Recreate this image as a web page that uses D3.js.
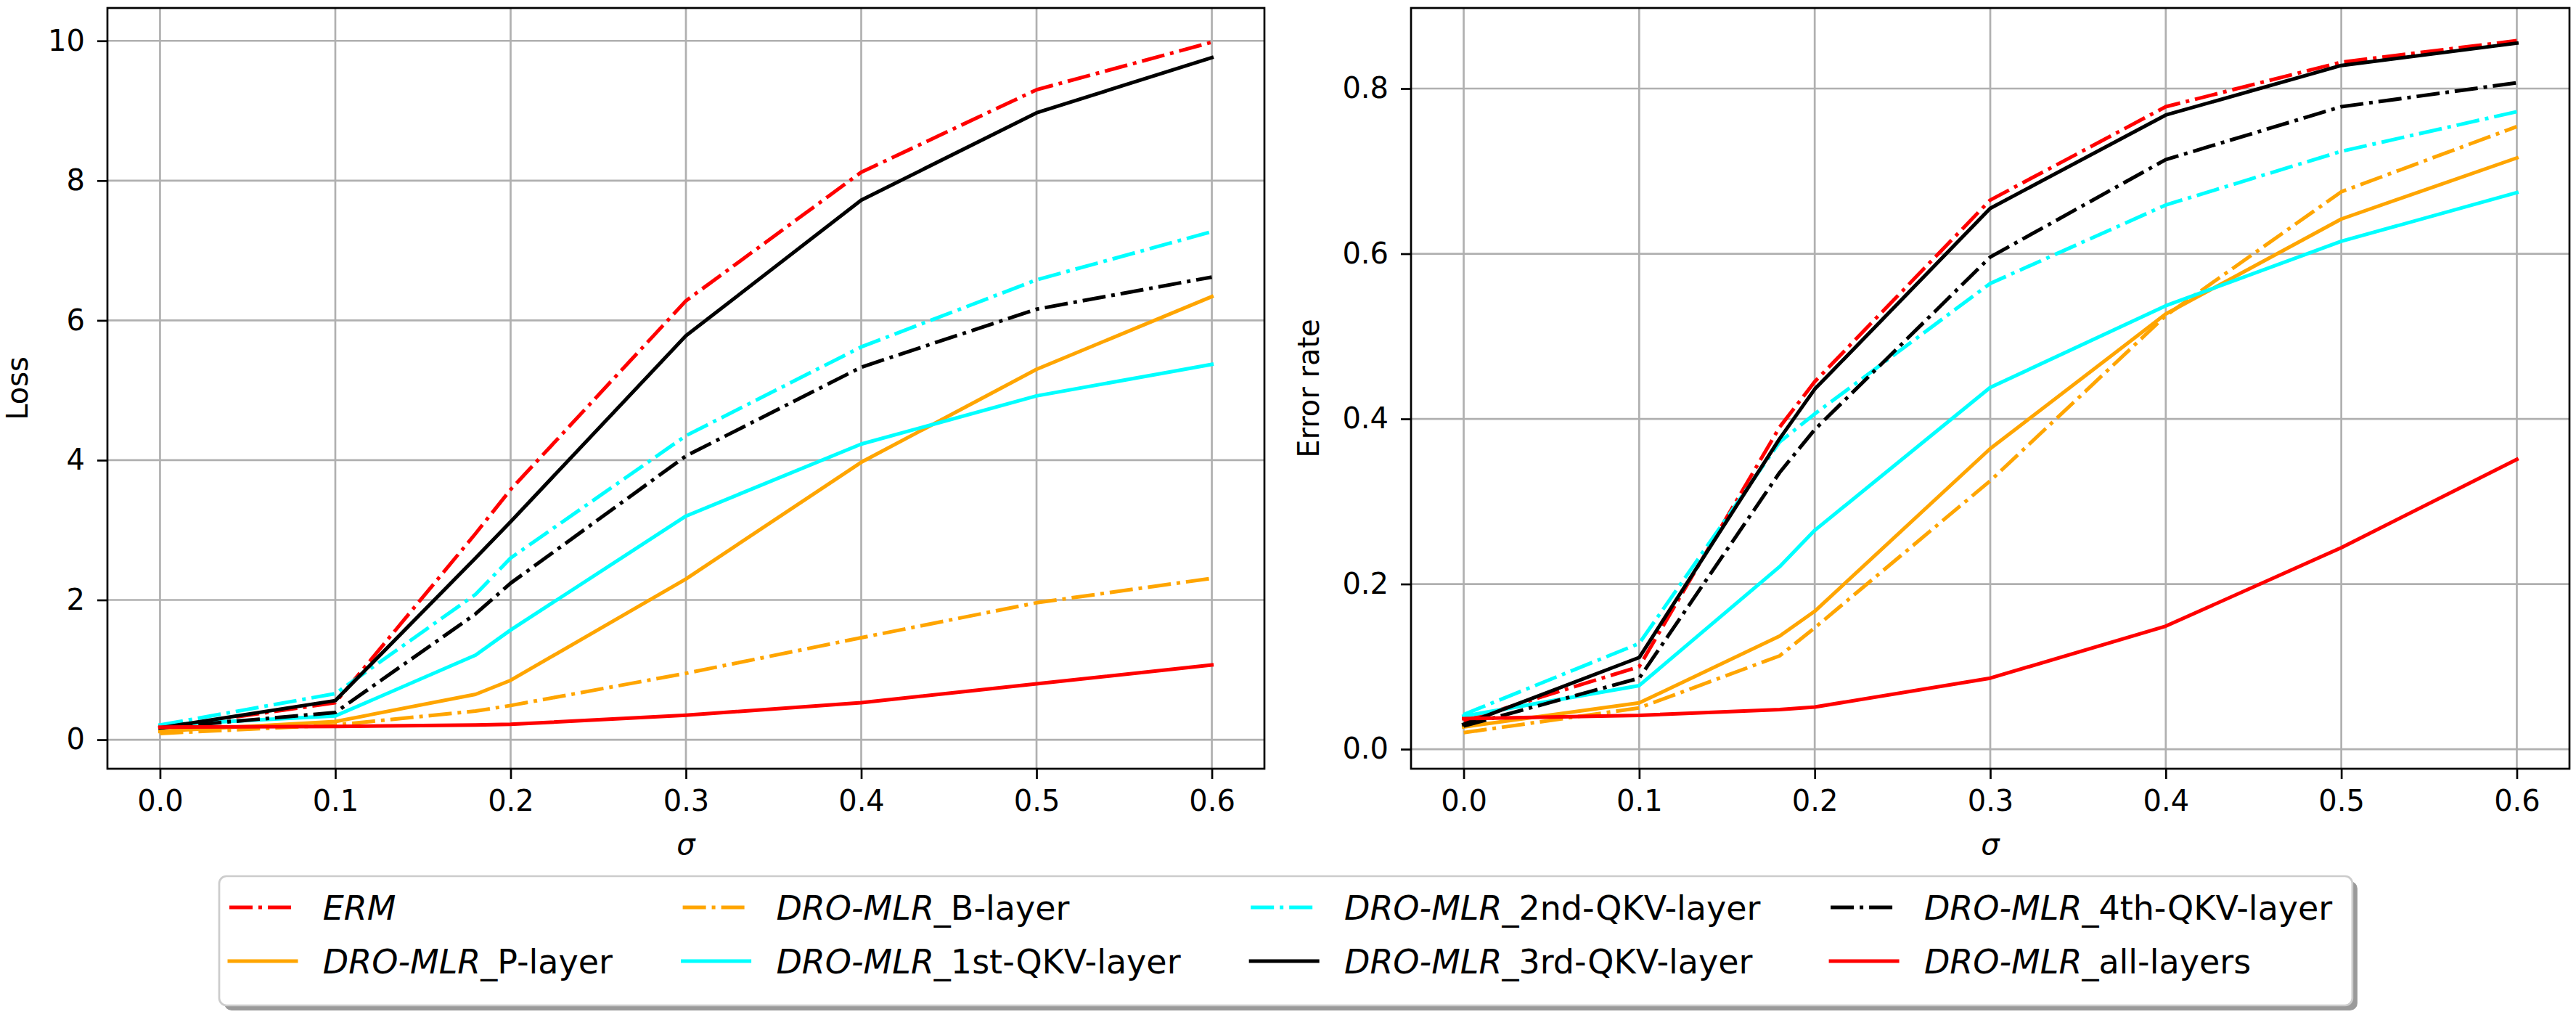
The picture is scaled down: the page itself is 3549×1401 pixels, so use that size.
<!DOCTYPE html>
<html>
<head>
<meta charset="utf-8">
<script src="https://cdn.jsdelivr.net/npm/d3@7"></script>
<style>
  html, body { margin: 0; padding: 0; background: #fff; }
  svg { display: block; }
  text { font-family: "DejaVu Sans", sans-serif; fill: #000; }
</style>
</head>
<body>
<svg id="chart" width="3549" height="1401"></svg>
<script>
// ---------------- DATA ----------------
const sigma = [0, 0.1, 0.18, 0.2, 0.3, 0.4, 0.5, 0.6];
const xTicks = [0, 0.1, 0.2, 0.3, 0.4, 0.5, 0.6];
const lossTicks = [0, 2, 4, 6, 8, 10];
const errTicks = [0, 0.2, 0.4, 0.6, 0.8];

const seriesNames = ["ERM", "P-layer", "B-layer", "1st-QKV-layer", "2nd-QKV-layer", "3rd-QKV-layer", "4th-QKV-layer", "all-layers"];

// Loss panel
const lossERM  = [0.17, 0.53, 2.95, 3.58, 6.28, 8.12, 9.30, 9.98];
const lossP    = [0.12, 0.26, 0.65, 0.85, 2.30, 3.97, 5.30, 6.34];
const lossB    = [0.09, 0.21, 0.41, 0.49, 0.95, 1.46, 1.96, 2.31];
const lossQKV1 = [0.21, 0.34, 1.21, 1.57, 3.20, 4.23, 4.92, 5.37];
const lossQKV2 = [0.21, 0.66, 2.08, 2.60, 4.35, 5.62, 6.58, 7.27];
const lossQKV3 = [0.17, 0.56, 2.60, 3.12, 5.78, 7.72, 8.97, 9.76];
const lossQKV4 = [0.17, 0.39, 1.80, 2.24, 4.06, 5.33, 6.16, 6.62];
const lossAll  = [0.18, 0.19, 0.21, 0.22, 0.35, 0.53, 0.80, 1.07];

// Error-rate panel
const errERM  = [0.034, 0.100, 0.390, 0.445, 0.665, 0.778, 0.832, 0.858];
const errP    = [0.027, 0.056, 0.137, 0.167, 0.364, 0.527, 0.642, 0.716];
const errB    = [0.020, 0.050, 0.113, 0.147, 0.325, 0.525, 0.675, 0.754];
const errQKV1 = [0.040, 0.077, 0.221, 0.265, 0.438, 0.537, 0.615, 0.674];
const errQKV2 = [0.042, 0.128, 0.372, 0.406, 0.564, 0.659, 0.724, 0.772];
const errQKV3 = [0.030, 0.111, 0.376, 0.436, 0.655, 0.768, 0.828, 0.855];
const errQKV4 = [0.028, 0.086, 0.335, 0.387, 0.596, 0.714, 0.778, 0.807];
const errAll  = [0.037, 0.041, 0.048, 0.051, 0.086, 0.149, 0.244, 0.351];

// ---------------- STYLE ----------------
const seriesColors = ["#ff0000", "#ffa500", "#ffa500", "#00ffff", "#00ffff", "#000000", "#000000", "#ff0000"];
const DASHDOT = "32,8,5,8";
const seriesDash = [DASHDOT, null, DASHDOT, null, DASHDOT, null, DASHDOT, null];
const LW = 5;
const FS_TICK = 40, FS_LEG = 46;

const svg = d3.select("#chart");
svg.append("rect").attr("width", 3549).attr("height", 1401).attr("fill", "#fff");

const panels = [
  { x0: 148, x1: 1742, yDomain: [-0.415, 10.47], ticks: lossTicks, fmt: d3.format("d"), label: "Loss", labelX: 38,
    data: [lossERM, lossP, lossB, lossQKV1, lossQKV2, lossQKV3, lossQKV4, lossAll] },
  { x0: 1944, x1: 3540, yDomain: [-0.0237, 0.8976], ticks: errTicks, fmt: d3.format(".1f"), label: "Error rate", labelX: 1817,
    data: [errERM, errP, errB, errQKV1, errQKV2, errQKV3, errQKV4, errAll] }
];
const axTop = 11, axBottom = 1059;

panels.forEach(p => {
  const x = d3.scaleLinear().domain([-0.03, 0.63]).range([p.x0, p.x1]);
  const y = d3.scaleLinear().domain(p.yDomain).range([axBottom, axTop]);
  const g = svg.append("g");

  // grid
  g.append("g").selectAll("line").data(xTicks).join("line")
    .attr("x1", d => x(d)).attr("x2", d => x(d)).attr("y1", axTop).attr("y2", axBottom)
    .attr("stroke", "#b0b0b0").attr("stroke-width", 2.7);
  g.append("g").selectAll("line").data(p.ticks).join("line")
    .attr("y1", d => y(d)).attr("y2", d => y(d)).attr("x1", p.x0).attr("x2", p.x1)
    .attr("stroke", "#b0b0b0").attr("stroke-width", 2.7);

  // lines
  const line = d3.line().x((d, i) => x(sigma[i])).y(d => y(d));
  p.data.forEach((vals, k) => {
    g.append("path").datum(vals).attr("d", line)
      .attr("fill", "none").attr("stroke", seriesColors[k]).attr("stroke-width", LW)
      .attr("stroke-linejoin", "round")
      .attr("stroke-linecap", seriesDash[k] ? "butt" : "square")
      .attr("stroke-dasharray", seriesDash[k]);
  });

  // axes
  const ax = g.append("g").attr("transform", `translate(0,${axBottom})`)
    .call(d3.axisBottom(x).tickValues(xTicks).tickFormat(d3.format(".1f")).tickSize(14).tickPadding(16));
  const ay = g.append("g").attr("transform", `translate(${p.x0},0)`)
    .call(d3.axisLeft(y).tickValues(p.ticks).tickFormat(p.fmt).tickSize(14).tickPadding(17));
  [ax, ay].forEach(a => {
    a.select(".domain").remove();
    a.selectAll(".tick line").attr("stroke", "#000").attr("stroke-width", 2.7);
    a.selectAll(".tick text").attr("font-size", FS_TICK).attr("font-family", "DejaVu Sans").attr("fill", "#000");
  });

  // frame
  g.append("rect").attr("x", p.x0).attr("y", axTop).attr("width", p.x1 - p.x0).attr("height", axBottom - axTop)
    .attr("fill", "none").attr("stroke", "#000").attr("stroke-width", 2.7);

  // labels
  g.append("text").attr("transform", `translate(${p.labelX},${(axTop + axBottom) / 2}) rotate(-90)`)
    .attr("text-anchor", "middle").attr("font-size", FS_TICK).text(p.label);
  g.append("text").attr("x", (p.x0 + p.x1) / 2).attr("y", 1177)
    .attr("text-anchor", "middle").attr("font-size", FS_TICK).attr("font-style", "italic").text("σ");
});

// ---------------- LEGEND ----------------
const legX = 302, legY = 1207, legH = 178;
const rowsY = [1250, 1324];
const handleLen = 2 * FS_LEG, handlePad = 0.8 * FS_LEG, colSpace = 2.1 * FS_LEG, borderPad = 0.6 * FS_LEG;
const shadow = svg.append("rect");
const box = svg.append("rect");
const lg = svg.append("g");

let colX = legX + 14;
let maxRight = 0;
for (let c = 0; c < 4; c++) {
  let maxW = 0;
  for (let r = 0; r < 2; r++) {
    const k = c * 2 + r;
    const yy = rowsY[r];
    lg.append("line").attr("x1", colX).attr("x2", colX + handleLen).attr("y1", yy).attr("y2", yy)
      .attr("stroke", seriesColors[k]).attr("stroke-width", LW)
      .attr("stroke-linecap", seriesDash[k] ? "butt" : "square")
      .attr("stroke-dasharray", seriesDash[k]);
    const t = lg.append("text").attr("x", colX + handleLen + handlePad).attr("y", yy + 17).attr("font-size", FS_LEG);
    if (k === 0) {
      t.append("tspan").attr("font-style", "italic").text("ERM");
    } else {
      t.append("tspan").attr("font-style", "italic").text("DRO-MLR");
      t.append("tspan").text("_" + seriesNames[k]);
    }
    maxW = Math.max(maxW, t.node().getComputedTextLength());
  }
  maxRight = colX + handleLen + handlePad + maxW;
  colX = maxRight + colSpace;
}
const legW = maxRight + borderPad - legX;
shadow.attr("x", legX + 7).attr("y", legY + 7).attr("width", legW).attr("height", legH)
  .attr("rx", 10).attr("fill", "#9a9a9a");
box.attr("x", legX).attr("y", legY).attr("width", legW).attr("height", legH)
  .attr("rx", 10).attr("fill", "#fff").attr("stroke", "#cccccc").attr("stroke-width", 2.7);
</script>
</body>
</html>
